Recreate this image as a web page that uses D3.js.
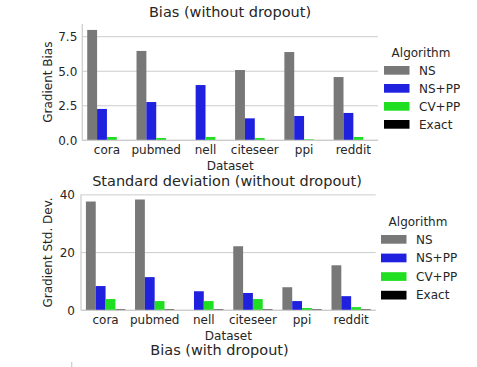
<!DOCTYPE html>
<html>
<head>
<meta charset="utf-8">
<script src="https://cdn.jsdelivr.net/npm/d3@7"></script>
<style>
  body { margin: 0; background: #fff; }
  svg { font-family: "DejaVu Sans", sans-serif; }
</style>
</head>
<body>
<svg id="chart" width="477" height="367"></svg>
<script>
// Data
var datasets = ['cora', 'pubmed', 'nell', 'citeseer', 'ppi', 'reddit'];
var algorithms = ['NS', 'NS+PP', 'CV+PP', 'Exact'];
var colors = ['#787878', '#2020df', '#20df20', '#000000'];

// Bias (without dropout), one array per algorithm
var biasNS = [7.99, 6.47, 0, 5.09, 6.39, 4.58];
var biasNSPP = [2.27, 2.77, 4.0, 1.59, 1.76, 1.98];
var biasCVPP = [0.24, 0.17, 0.24, 0.17, 0.07, 0.24];
var biasExact = [0.01, 0.01, 0.01, 0.01, 0.01, 0.01];

// Standard deviation (without dropout)
var stdNS = [37.7, 38.4, 0, 22.2, 8.0, 15.6];
var stdNSPP = [8.4, 11.5, 6.6, 6.0, 3.2, 4.9];
var stdCVPP = [3.9, 3.2, 3.2, 3.9, 0.8, 1.1];
var stdExact = [0.3, 0.3, 0.3, 0.3, 0.3, 0.3];

var biasTicks = [0, 2.5, 5, 7.5];
var stdTicks = [0, 20, 40];

var svg = d3.select('#chart');
var textColor = '#262626';
var gridColor = '#cccccc';

// Draw one bar panel
function drawPanel(opts) {
  var g = svg.append('g');
  var x = d3.scaleBand().domain(datasets)
    .range([opts.left, opts.right]).paddingInner(0.2).paddingOuter(0.1);
  var xs = d3.scaleBand().domain(algorithms).range([0, x.bandwidth()]).padding(0);
  var y = d3.scaleLinear().domain([0, opts.ymax]).range([opts.bottom, opts.top]);

  // grid
  g.selectAll('line.grid').data(opts.ticks).enter().append('line')
    .attr('x1', opts.left).attr('x2', opts.right)
    .attr('y1', function (d) { return y(d); }).attr('y2', function (d) { return y(d); })
    .attr('stroke', gridColor).attr('stroke-width', 1);

  // bars
  var rows = [];
  opts.series.forEach(function (vals, a) {
    vals.forEach(function (v, i) {
      rows.push({ ds: datasets[i], alg: algorithms[a], value: v, color: colors[a] });
    });
  });
  g.selectAll('rect.bar').data(rows).enter().append('rect')
    .attr('x', function (d) { return x(d.ds) + xs(d.alg); })
    .attr('width', xs.bandwidth())
    .attr('y', function (d) { return y(d.value); })
    .attr('height', function (d) { return y(0) - y(d.value); })
    .attr('fill', function (d) { return d.color; });

  // spines
  g.append('line').attr('x1', opts.left).attr('x2', opts.left)
    .attr('y1', opts.top).attr('y2', opts.bottom)
    .attr('stroke', gridColor).attr('stroke-width', 1.25);
  g.append('line').attr('x1', opts.left).attr('x2', opts.right)
    .attr('y1', opts.bottom).attr('y2', opts.bottom)
    .attr('stroke', gridColor).attr('stroke-width', 1.25);

  // axes
  var xAxis = d3.axisBottom(x).tickSize(0).tickPadding(5.2);
  var gx = g.append('g').attr('transform', 'translate(0,' + opts.bottom + ')').call(xAxis);
  var yAxis = d3.axisLeft(y).tickValues(opts.ticks).tickSize(0).tickPadding(opts.ypad)
    .tickFormat(opts.fmt);
  var gy = g.append('g').attr('transform', 'translate(' + opts.left + ',0)').call(yAxis);
  [gx, gy].forEach(function (ax) {
    ax.select('.domain').remove();
    ax.selectAll('text').attr('fill', textColor).style('font-size', '12px')
      .style('font-family', '"DejaVu Sans", sans-serif');
  });

  // labels
  g.append('text').attr('x', (opts.left + opts.right) / 2).attr('y', opts.bottom + 30)
    .attr('text-anchor', 'middle').attr('fill', textColor).style('font-size', '12px')
    .text('Dataset');
  g.append('text')
    .attr('transform', 'translate(52,' + ((opts.top + opts.bottom) / 2) + ') rotate(-90)')
    .attr('text-anchor', 'middle').attr('fill', textColor).style('font-size', '12px')
    .text(opts.ylabel);
  g.append('text').attr('x', opts.titleX).attr('y', opts.titleY)
    .attr('text-anchor', 'middle').attr('fill', textColor).style('font-size', '14.5px')
    .text(opts.title);

  // legend
  var lg = g.append('g');
  lg.append('text').attr('x', opts.legX + 37).attr('y', opts.legY)
    .attr('text-anchor', 'middle').attr('fill', textColor).style('font-size', '12px')
    .text('Algorithm');
  algorithms.forEach(function (a, i) {
    var yy = opts.legY + 9 + i * opts.legStep;
    lg.append('rect').attr('x', opts.legX).attr('y', yy)
      .attr('width', 25.5).attr('height', 8.7).attr('fill', colors[i]);
    lg.append('text').attr('x', opts.legX + 35).attr('y', yy + 4.35).attr('dy', '0.36em')
      .attr('fill', textColor).style('font-size', '12px').text(a);
  });
}

drawPanel({
  left: 82.3, right: 378, top: 24, bottom: 140.3, ymax: 8.42,
  ticks: biasTicks, fmt: d3.format('.1f'), ypad: 5,
  series: [biasNS, biasNSPP, biasCVPP, biasExact],
  ylabel: 'Gradient Bias', title: 'Bias (without dropout)', titleX: 230, titleY: 17,
  legX: 384, legY: 57, legStep: 18
});

drawPanel({
  left: 81, right: 375.7, top: 194.6, bottom: 310.3, ymax: 40.1,
  ticks: stdTicks, fmt: d3.format('d'), ypad: 6,
  series: [stdNS, stdNSPP, stdCVPP, stdExact],
  ylabel: 'Gradient Std. Dev.', title: 'Standard deviation (without dropout)', titleX: 227, titleY: 186,
  legX: 381, legY: 226, legStep: 18.6
});

// Third panel, cut off at the bottom of the figure
svg.append('text').attr('x', 219.5).attr('y', 355).attr('text-anchor', 'middle')
  .attr('fill', textColor).style('font-size', '14.5px').text('Bias (with dropout)');
svg.append('line').attr('x1', 71.7).attr('x2', 71.7).attr('y1', 362).attr('y2', 367)
  .attr('stroke', gridColor).attr('stroke-width', 1.25);
</script>
</body>
</html>
